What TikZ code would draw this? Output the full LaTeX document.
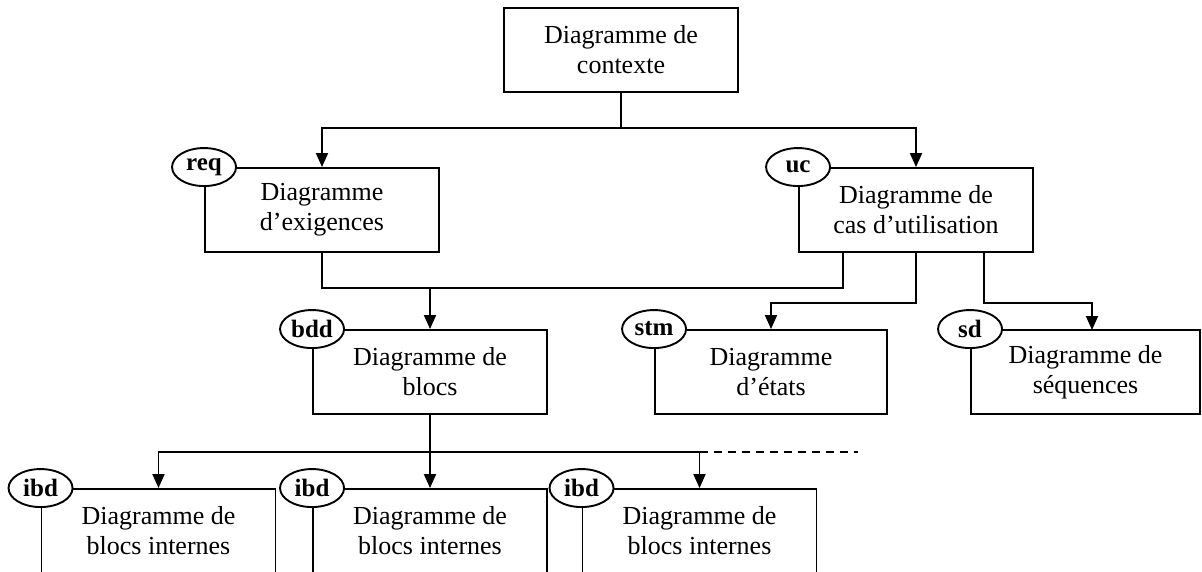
\documentclass[tikz,border=0pt]{standalone}
\usepackage{fontspec}
\setmainfont{Liberation Serif}
\usetikzlibrary{arrows.meta,shapes.geometric}
\begin{document}
\begin{tikzpicture}[x=1pt,y=-1pt,
  box/.style={draw, line width=1.9pt, fill=white, minimum width=234pt, minimum height=84pt,
    inner sep=0pt, align=center, font=\fontsize{26}{30}\selectfont},
  tag/.style={draw, ellipse, line width=1.9pt, fill=white, minimum width=64pt, minimum height=38pt,
    inner sep=0pt, font=\fontsize{25}{28}\selectfont\bfseries},
  conn/.style={line width=1.9pt},
  arr/.style={conn, -{Triangle[length=14pt,width=12pt]}}]
\useasboundingbox (0,0) rectangle (1202,571);
\clip (0,0) rectangle (1202,571);
\fill[white] (0,0) rectangle (1202,571);

% boxes
\node[box] (ctx) at (621,50) {Diagramme de\\contexte};
\node[box] (req) at (322,210) {Diagramme\\d’exigences};
\node[box] (uc)  at (916,210) {Diagramme de\\cas d’utilisation};
\node[box] (bdd) at (430,372) {Diagramme de\\blocs};
\node[box, minimum width=232pt] (stm) at (771,372) {Diagramme\\d’états};
\node[box, minimum width=229pt] (sd)  at (1085.5,372) {Diagramme de\\séquences};
\node[box] (ibdA) at (158.5,531) {Diagramme de\\blocs internes};
\node[box] (ibdB) at (430,531) {Diagramme de\\blocs internes};
\node[box] (ibdC) at (699.5,531) {Diagramme de\\blocs internes};

% tags
\node[tag] (treq) at (req.north west) {req};
\node[tag] (tuc)  at (uc.north west) {uc};
\node[tag] (tbdd) at (bdd.north west) {bdd};
\node[tag] (tstm) at (stm.north west) {stm};
\node[tag] (tsd)  at (sd.north west) {sd};
\node[tag] (tibdA) at (ibdA.north west) {ibd};
\node[tag] (tibdB) at (ibdB.north west) {ibd};
\node[tag] (tibdC) at (ibdC.north west) {ibd};

% junction coordinates
\coordinate (j1) at (621,128);
\coordinate (j2) at (430,288);
\coordinate (ucL) at (843,252);
\coordinate (j3) at (916,303);
\coordinate (ucR) at (984,252);
\coordinate (sdT) at (1092,330);
\coordinate (j4) at (430,452);
\coordinate (dashEnd) at (858,452);

% connectors
\draw[conn] (ctx.south) -- (j1);
\draw[arr] (j1) -| (req.north);
\draw[arr] (j1) -| (uc.north);

\draw[conn] (req.south) -- (req.south |- j2) -- (ucL |- j2) -- (ucL);
\draw[arr] (j2) -- (bdd.north);

\draw[arr] (uc.south) -- (j3) -| (stm.north);
\draw[arr] (ucR) -- (ucR |- j3) -| (sdT);

\draw[conn] (bdd.south) -- (j4);
\draw[arr] (j4) -| (ibdA.north);
\draw[arr] (j4) -- (ibdB.north);
\draw[arr] (j4) -| (ibdC.north);
\draw[conn, dashed, dash pattern=on 8pt off 6pt] (ibdC.north |- j4) -- (dashEnd);
\end{tikzpicture}
\end{document}
